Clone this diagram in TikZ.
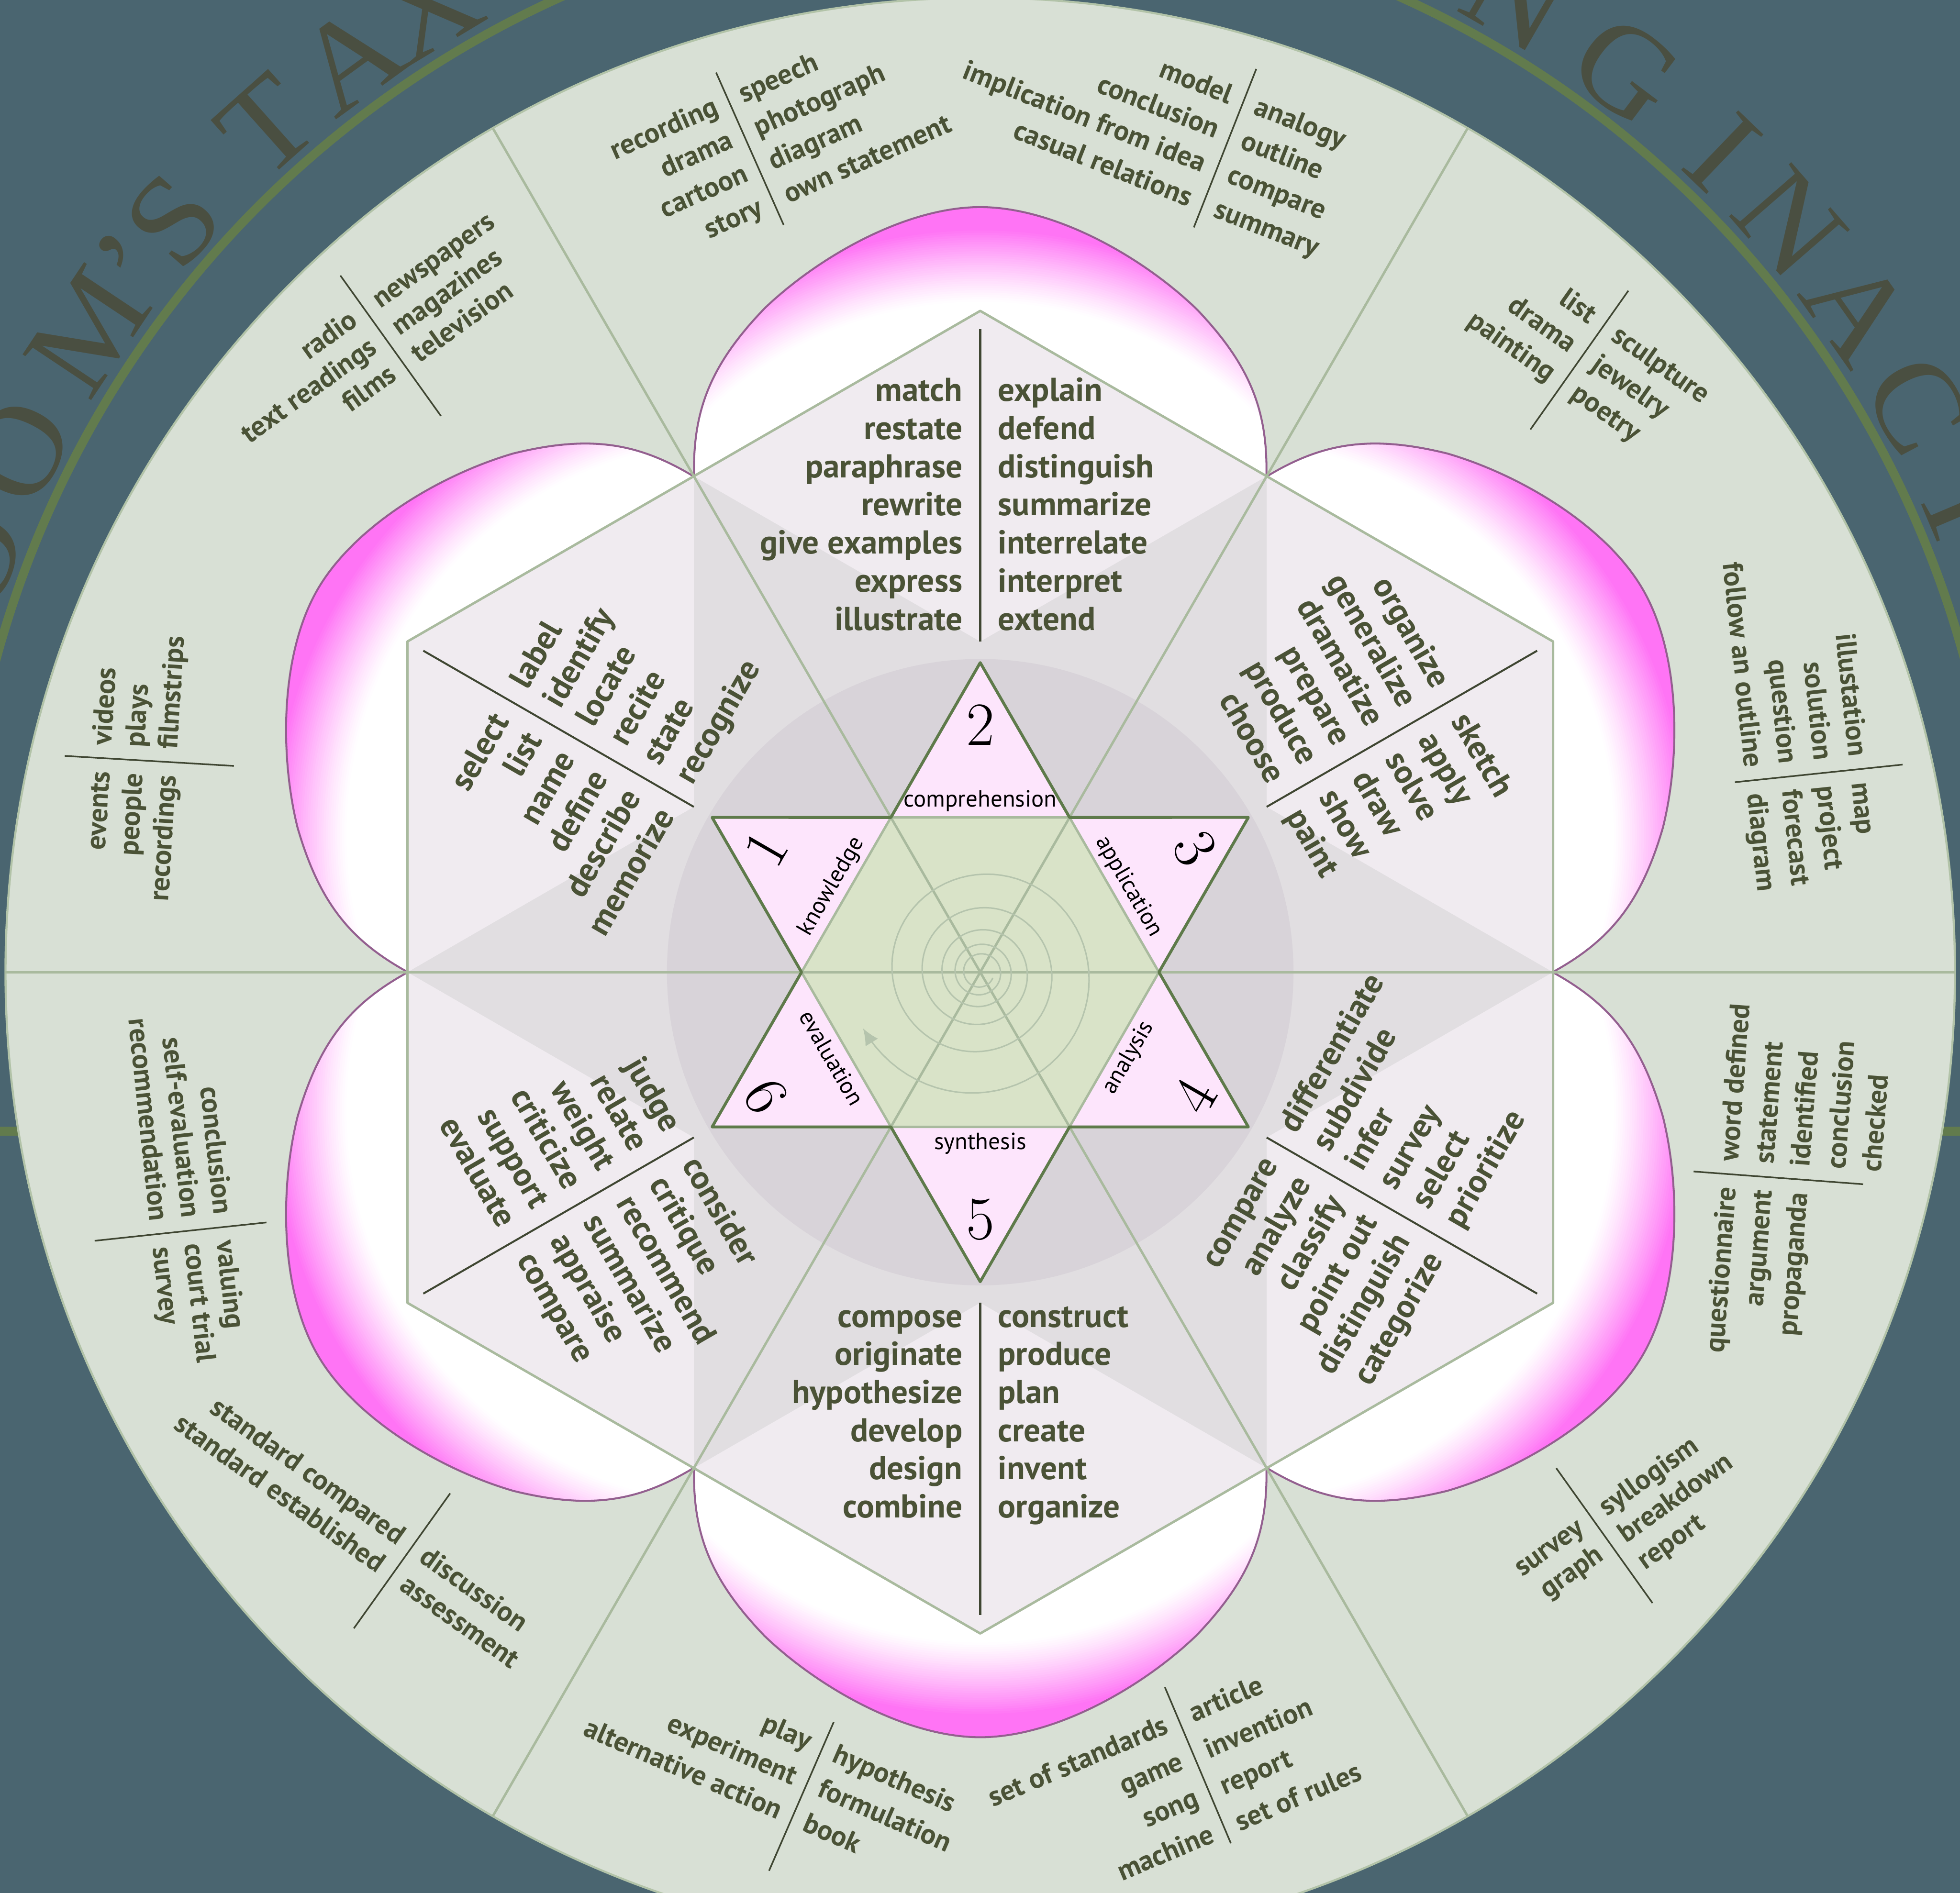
\documentclass[tikz,border=0pt]{standalone}
\usepackage{fontspec}
\setsansfont{PT Sans}
\newfontfamily\titleserif{Liberation Serif}[FakeStretch=1.06]
\usetikzlibrary{arrows.meta}
\definecolor{bgslate}{HTML}{4A6570}
\definecolor{ringgreen}{HTML}{627B4D}
\definecolor{titlegrey}{HTML}{4A4F41}
\definecolor{diskfill}{HTML}{D8E0D5}
\definecolor{diskrim}{HTML}{B2C3A8}
\definecolor{spokegreen}{HTML}{A9BA9E}
\definecolor{wordolive}{HTML}{4A5236}
\definecolor{sepdark}{HTML}{3F4632}
\definecolor{petalpink}{HTML}{FF74F5}
\definecolor{petalline}{HTML}{935F8F}
\definecolor{panellight}{HTML}{F0EBF0}
\definecolor{paneldark}{HTML}{E1DEE1}
\definecolor{circlegrey}{HTML}{D8D3D9}
\definecolor{starpink}{HTML}{FDE5FC}
\definecolor{stargreen}{HTML}{5E7A4A}
\definecolor{hexsage}{HTML}{D9E3C8}
\definecolor{spiralgreen}{HTML}{B5C4AD}
\tikzset{
  every picture/.style={line join=round},
  spoke/.style={draw=spokegreen, line width=1.5pt},
  starline/.style={draw=stargreen, line width=1.8pt},
  spiral/.style={draw=spiralgreen, line width=0.9pt},
  petal/.style={draw=petalline, line width=1.2pt},
  verbword/.style={font=\sffamily\bfseries\fontsize{20.5}{23}\selectfont, text=wordolive, inner sep=0pt},
  mediaword/.style={font=\sffamily\bfseries\fontsize{17.5}{20}\selectfont, text=wordolive, inner sep=0pt},
  verbsep/.style={draw=sepdark, line width=1.2pt},
  mediasep/.style={draw=sepdark, line width=1pt},
  levelnum/.style={font=\rmfamily\fontsize{38}{40}\selectfont, text=black},
  levelname/.style={font=\sffamily\fontsize{14.5}{16}\selectfont, text=black},
  titleletter/.style={font=\titleserif\fontsize{78}{80}\selectfont, text=titlegrey, anchor=base, inner sep=0pt},
}
% petal outline, drawn for the top petal
\newcommand{\petalpath}{(-6.23,10.79) .. controls (-6.26,12.2) and (-5.9,13.2) .. (-4.7,14.45) .. controls (-3.5,15.6) and (-1.6,16.66) .. (0,16.66) .. controls (1.6,16.66) and (3.5,15.6) .. (4.7,14.45) .. controls (5.9,13.2) and (6.26,12.2) .. (6.23,10.79) -- (0,14.4) -- cycle}
\newcommand{\starpath}{(90:6.74) -- (60:3.89) -- (30:6.74) -- (0:3.89) -- (-30:6.74) -- (-60:3.89) -- (-90:6.74) -- (-120:3.89) -- (-150:6.74) -- (180:3.89) -- (150:6.74) -- (120:3.89) -- cycle}
% #1 separator top, #2 rotation, #3 separator length, #4 first baseline, #5 line step
\newcommand{\mediagroup}[7]{%
  \begin{scope}[shift={#1}, rotate=#2, transform shape]
    \draw[mediasep] (0,0) -- (0,-#3);
    \foreach \w [count=\i] in {#6}
      \node[mediaword, anchor=base east] at (-0.28,{-#4-(\i-1)*#5}) {\w};
    \foreach \w [count=\i] in {#7}
      \node[mediaword, anchor=base west] at (0.28,{-#4-(\i-1)*#5}) {\w};
  \end{scope}}
% #1 rotation, #2 first baseline
\newcommand{\verbpanel}[4]{%
  \begin{scope}[rotate=#1, transform shape]
    \foreach \w [count=\i] in {#3}
      \node[verbword, anchor=base east] at (-0.38,{#2-(\i-1)*0.83}) {\w};
    \foreach \w [count=\i] in {#4}
      \node[verbword, anchor=base west] at (0.38,{#2-(\i-1)*0.83}) {\w};
  \end{scope}}

\begin{document}
\begin{tikzpicture}
  \useasboundingbox (-21.34,-20.05) rectangle (21.33,21.17);
  \clip (-21.34,-20.05) rectangle (21.33,21.17);
  \fill[bgslate] (-21.34,-20.05) rectangle (21.33,21.17);

  % title arch
  \begin{scope}[shift={(0,1.0)}]
    \draw[ringgreen, line width=5.5pt] (-11.6:22.2) arc[start angle=-11.6, end angle=191.6, radius=22.2] -- cycle;
    \foreach \ch/\ang in {O/160.0, O/153.7, M/146.3, ’/142.0, S/138.8, T/131.7, A/126.0, X/121.0,
                          N/60.0, G/53.0, I/46.2, N/41.0, A/35.1, C/29.1, T/23.0}
      \node[titleletter, rotate=\ang-90] at (\ang:22.45) {\ch};
  \end{scope}

  % outer disk
  \draw[diskrim, line width=1.3pt, fill=diskfill] (0,0) circle (21.22);

  % products / media
  \mediagroup{(-5.75,19.59)}{23.9}{3.63}{0.85}{0.8}{recording,drama,cartoon,story}{speech,photograph,diagram,own statement}
  \mediagroup{(6.01,19.67)}{-21.5}{3.71}{0.94}{0.8}{model,conclusion,implication from idea,casual relations}{analogy,outline,compare,summary}
  \mediagroup{(14.11,14.84)}{-35.2}{3.70}{1.1}{0.77}{list,drama,painting}{sculpture,jewelry,poetry}
  \mediagroup{(20.08,4.52)}{-84}{3.67}{1.15}{0.76}{illustation,solution,question,follow an outline}{map,project,forecast,diagram}
  \mediagroup{(15.53,-4.34)}{85.7}{3.70}{0.95}{0.78}{questionnaire,argument,propaganda}{word defined,statement,identified,conclusion,checked}
  \mediagroup{(12.54,-10.80)}{35.5}{3.61}{1.5}{0.72}{survey,graph}{syllogism,breakdown,report}
  \mediagroup{(4.02,-15.57)}{22.9}{3.69}{0.95}{0.86}{set of standards,game,song,machine}{article,invention,report,set of rules}
  \mediagroup{(-3.19,-16.33)}{-23.5}{3.53}{0.8}{0.82}{play,experiment,alternative action}{hypothesis,formulation,book}
  \mediagroup{(-11.54,-11.35)}{-35.5}{3.61}{1.6}{0.75}{standard compared,standard established}{discussion,assessment}
  \mediagroup{(-15.54,-5.45)}{-83.9}{3.76}{1.12}{0.70}{conclusion,self-evaluation,recommendation}{valuing,court trial,survey}
  \mediagroup{(-19.93,4.71)}{86.6}{3.69}{1.0}{0.72}{events,people,recordings}{videos,plays,filmstrips}
  \mediagroup{(-13.93,15.17)}{35.6}{3.76}{1.1}{0.73}{radio,text readings,films}{newspapers,magazines,television}

  % petals: white core, magenta towards the rim
  \foreach \a in {90,30,-30,-90,-150,150}{
    \begin{scope}
      \clip[rotate=\a-90] \petalpath;
      \fill[petalpink] (\a:6) circle (12);
      \foreach \k in {1,...,32}{
        \pgfmathsetmacro\rr{10.2-\k*0.05}
        \pgfmathsetmacro\pp{100*((32-\k)/32)^1.2}
        \fill[petalpink!\pp!white] (\a:6) circle (\rr);
      }
    \end{scope}
    \draw[petal, rotate=\a-90] \petalpath;
  }

  % hexagon and panels
  \fill[paneldark] (90:14.4) -- (30:14.4) -- (-30:14.4) -- (-90:14.4) -- (-150:14.4) -- (150:14.4) -- cycle;
  \foreach \a in {90,30,-30,-90,-150,150}
    \fill[panellight] (\a:14.4) -- (\a+30:12.47) -- (\a:7.2) -- (\a-30:12.47) -- cycle;
  \fill[circlegrey] (0,0) circle (6.82);
  \draw[spoke] (90:14.4) -- (30:14.4) -- (-30:14.4) -- (-90:14.4) -- (-150:14.4) -- (150:14.4) -- cycle;
  \foreach \a in {0,60,120}
    \draw[spoke] (\a:21.22) -- (\a+180:21.22);

  % star
  \fill[starpink] \starpath;
  \fill[hexsage] (0:3.89) -- (60:3.89) -- (120:3.89) -- (180:3.89) -- (240:3.89) -- (300:3.89) -- cycle;
  \foreach \a in {0,60,120}
    \draw[spoke] (\a:3.89) -- (\a+180:3.89);
  \draw[spiral, -{Latex[length=3.6mm, width=3.2mm]}] plot[domain=0:1930, samples=400] ({205.6+1930-\x}:{2.83*1.52^(-(1930-\x)/360)});
  \draw[spoke] (0:3.89) -- (60:3.89) -- (120:3.89) -- (180:3.89) -- (240:3.89) -- (300:3.89) -- cycle;
  \draw[starline] \starpath;

  \foreach \a/\n/\lab/\r in {150/1/knowledge/60, 90/2/comprehension/0, 30/3/application/-60,
                             -30/4/analysis/60, -90/5/synthesis/0, -150/6/evaluation/-60}{
    \node[levelnum, rotate=\r] (num\n) at (\a:5.39) {\n};
    \node[levelname, rotate=\r] (lvl\n) at (\a:3.73) {\lab};
  }

  % verbs
  \foreach \a in {90,30,-30,-90,-150,150}
    \draw[verbsep] (\a:7.2) -- (\a:14.0);
  \verbpanel{0}{12.43}{match,restate,paraphrase,rewrite,give examples,express,illustrate}{explain,defend,distinguish,summarize,interrelate,interpret,extend}
  \verbpanel{60}{11.6}{select,list,name,define,describe,memorize}{label,identify,locate,recite,state,recognize}
  \verbpanel{-60}{11.6}{organize,generalize,dramatize,prepare,produce,choose}{sketch,apply,solve,draw,show,paint}
  \verbpanel{60}{-7.73}{compare,analyze,classify,point out,distinguish,categorize}{differentiate,subdivide,infer,survey,select,prioritize}
  \verbpanel{0}{-7.73}{compose,originate,hypothesize,develop,design,combine}{construct,produce,plan,create,invent,organize}
  \verbpanel{-60}{-7.73}{judge,relate,weight,criticize,support,evaluate}{consider,critique,recommend,summarize,appraise,compare}
\end{tikzpicture}
\end{document}
